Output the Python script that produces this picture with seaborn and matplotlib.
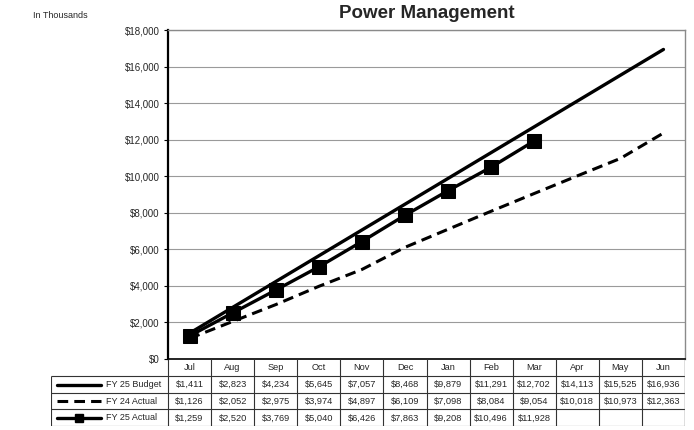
import numpy as np
import pandas as pd
import matplotlib
matplotlib.use("Agg")
import matplotlib.pyplot as plt
import seaborn as sns

months = ["Jul", "Aug", "Sep", "Oct", "Nov", "Dec", "Jan", "Feb", "Mar", "Apr", "May", "Jun"]
fy25_budget = [1411, 2823, 4234, 5645, 7057, 8468, 9879, 11291, 12702, 14113, 15525, 16936]
fy24_actual = [1126, 2052, 2975, 3974, 4897, 6109, 7098, 8084, 9054, 10018, 10973, 12363]
fy25_actual = [1259, 2520, 3769, 5040, 6426, 7863, 9208, 10496, 11928]
series_names = ["FY 25 Budget", "FY 24 Actual", "FY 25 Actual"]

sns.set_style("white")
plt.rcParams['font.family'] = ['Liberation Sans', 'DejaVu Sans']

W, H = 694, 430
fig = plt.figure(figsize=(W / 100, H / 100), dpi=100)

# main plot area (pixel box 168..685 x 30..359)
px_l, px_r, px_t, px_b = 168, 685, 30, 359
ax = fig.add_axes([px_l / W, 1 - px_b / H, (px_r - px_l) / W, (px_b - px_t) / H])

x_all = np.arange(len(months))
df = pd.DataFrame({
    "x": np.concatenate([x_all, x_all, x_all[:len(fy25_actual)]]),
    "value": fy25_budget + fy24_actual + fy25_actual,
    "series": [series_names[0]] * 12 + [series_names[1]] * 12 + [series_names[2]] * len(fy25_actual),
})

styles = {
    series_names[0]: dict(ls="-", lw=2.4, marker=None),
    series_names[1]: dict(ls=(0, (3.5, 2)), lw=2.2, marker=None),
    series_names[2]: dict(ls="-", lw=2.4, marker="s"),
}
for name in series_names:
    st = styles[name]
    sub = df[df["series"] == name]
    sns.lineplot(data=sub, x="x", y="value", ax=ax, color="black", lw=st["lw"],
                 linestyle=st["ls"], marker=st["marker"], markersize=9.5,
                 markeredgecolor="black", markerfacecolor="black", legend=False)

ax.set_xlim(-0.5, 11.5)
ax.set_ylim(0, 18000)
ax.set_yticks(np.arange(0, 18001, 2000))
ax.set_yticklabels([f"${v:,.0f}" for v in np.arange(0, 18001, 2000)], fontsize=7)
ax.set_xticks([])
ax.set_xlabel("")
ax.set_ylabel("")
ax.yaxis.grid(True, color="#9a9a9a", lw=0.8)
ax.tick_params(axis="y", length=3, width=0.8, color="black", pad=3, left=True)
for s in ["top", "right"]:
    ax.spines[s].set_color("#8a8a8a")
    ax.spines[s].set_linewidth(1.0)
ax.spines["left"].set_color("black")
ax.spines["left"].set_linewidth(1.6)
ax.spines["bottom"].set_color("black")
ax.spines["bottom"].set_linewidth(1.2)

fig.text(px_l / W + (px_r - px_l) / W / 2, 1 - 13 / H, "Power Management",
         ha="center", va="center", fontsize=13.5, fontweight="bold")
fig.text(33 / W, 1 - 16 / H, "In Thousands", ha="left", va="center", fontsize=6.5)

# data table below the chart
tb_l, tb_b = 51, 426
col_w = (px_r - px_l) / 12
label_w = (px_l - tb_l) / col_w
tax = fig.add_axes([tb_l / W, 1 - tb_b / H, (px_r - tb_l) / W, (tb_b - px_b) / H])
tax.set_xlim(-0.5 - label_w, 11.5)
row_h = [17, 16.5, 16.5, 17]
edges = np.concatenate([[0], np.cumsum(row_h)])
tax.set_ylim(edges[-1], 0)
tax.axis("off")

lc = "#333333"
tax.hlines(edges[1:], -0.5 - label_w, 11.5, color=lc, lw=0.8)
for xv in np.arange(-0.5, 12.0, 1.0):
    tax.vlines(xv, 0, edges[-1], color=lc, lw=0.8)
tax.vlines(-0.5 - label_w, edges[1], edges[-1], color=lc, lw=0.8)
tax.vlines(11.5, 0, edges[-1], color="#8a8a8a", lw=1.0)

tfs = 6.7
for i, m in enumerate(months):
    tax.text(i, (edges[0] + edges[1]) / 2 + 0.5, m, ha="center", va="center", fontsize=tfs)

rows = [fy25_budget, fy24_actual, fy25_actual]
x_left = -0.5 - label_w
for r, (name, vals) in enumerate(zip(series_names, rows)):
    yc = (edges[r + 1] + edges[r + 2]) / 2 + 0.5
    for i, v in enumerate(vals):
        tax.text(i, yc, f"${v:,.0f}", ha="center", va="center", fontsize=tfs)
    # legend key
    st = styles[name]
    x0, x1 = x_left + 6 / col_w, x_left + 50 / col_w
    tax.plot([x0, x1], [yc, yc], color="black", lw=st["lw"], linestyle=st["ls"])
    if st["marker"]:
        tax.plot([(x0 + x1) / 2], [yc], marker="s", color="black", markersize=5.5)
    tax.text(x_left + 55 / col_w, yc, name, ha="left", va="center", fontsize=6.5)

fig.savefig("out.png", dpi=100)
